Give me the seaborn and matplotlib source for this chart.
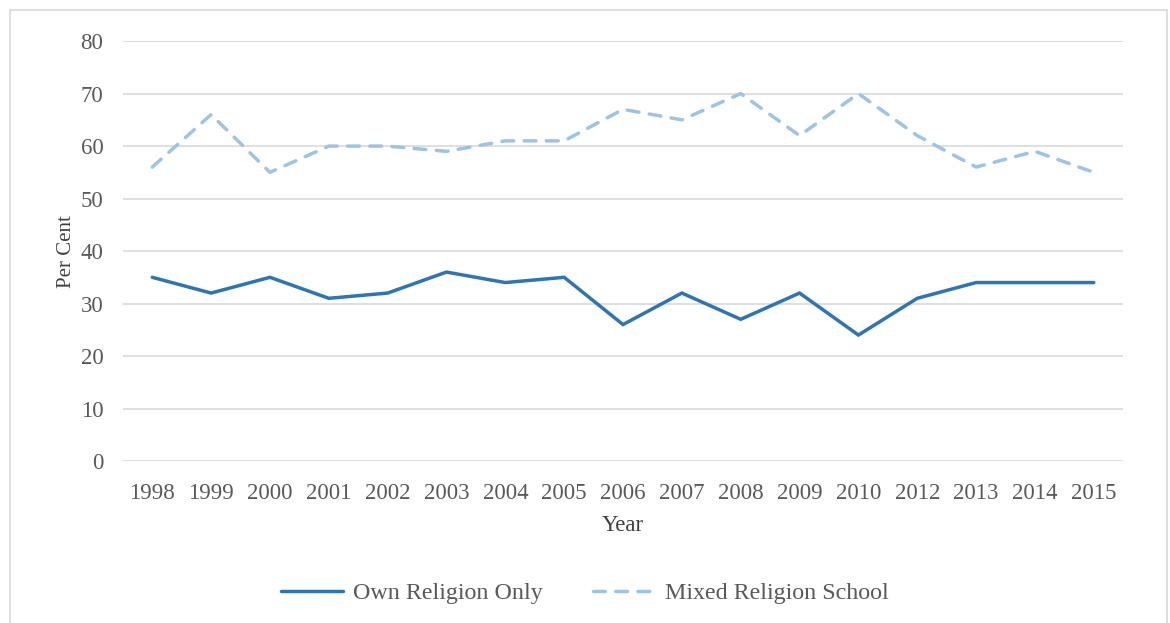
import matplotlib
matplotlib.use("Agg")
import matplotlib.pyplot as plt
import seaborn as sns
import pandas as pd
from matplotlib.patches import Rectangle

years = ["1998", "1999", "2000", "2001", "2002", "2003", "2004", "2005", "2006",
         "2007", "2008", "2009", "2010", "2012", "2013", "2014", "2015"]
own_religion = [35, 32, 35, 31, 32, 36, 34, 35, 26, 32, 27, 32, 24, 31, 34, 34, 34]
mixed_religion = [56, 66, 55, 60, 60, 59, 61, 61, 67, 65, 70, 62, 70, 62, 56, 59, 55]
series_names = ["Own Religion Only", "Mixed Religion School"]
y_ticks = [0, 10, 20, 30, 40, 50, 60, 70, 80]

sns.set_theme(style="white")
plt.rcParams["font.family"] = ["Liberation Serif", "DejaVu Serif"]

df = pd.DataFrame({
    "Year": years * 2,
    "Value": own_religion + mixed_religion,
    "Series": [series_names[0]] * len(years) + [series_names[1]] * len(years),
})

fig = plt.figure(figsize=(11.7, 6.23), dpi=100)
ax = fig.add_axes([0.105, 0.26, 0.855, 0.674])

colors = {series_names[0]: "#2e75b6", series_names[1]: "#9dc3e6"}
sns.lineplot(data=df[df.Series == series_names[0]], x="Year", y="Value",
             color=colors[series_names[0]], linewidth=2.5, sort=False, ax=ax,
             label=series_names[0], solid_capstyle="round", solid_joinstyle="miter")
sns.lineplot(data=df[df.Series == series_names[1]], x="Year", y="Value",
             color=colors[series_names[1]], linewidth=2.5, sort=False, ax=ax,
             label=series_names[1], dashes=False, linestyle=(0, (3.4, 3.0)),
             dash_capstyle="round")

ax.set_ylim(0, 80)
ax.set_xlim(-0.5, len(years) - 0.5)
ax.set_yticks(y_ticks)
ax.yaxis.grid(True, color="#d9d9d9", linewidth=1.2)
ax.xaxis.grid(False)
ax.set_axisbelow(True)
for s in ax.spines.values():
    s.set_visible(False)
ax.tick_params(axis="both", length=0, labelsize=16.5, colors="#595959")
ax.tick_params(axis="x", pad=16)
ax.tick_params(axis="y", pad=14)
ax.set_xlabel("Year", fontsize=16.5, color="#404040", labelpad=8)
ax.set_ylabel("Per Cent", fontsize=15, color="#404040", labelpad=3)

ax.get_legend().remove()
handles, labels = ax.get_legend_handles_labels()
leg = fig.legend(handles, labels, loc="center", bbox_to_anchor=(0.5, 0.048), ncol=2,
                 frameon=False, fontsize=17.3, handlelength=2.6, handletextpad=0.4,
                 columnspacing=2.1, labelcolor="#595959")

fig.patches.append(Rectangle((10 / 1170, -0.05), 1157 / 1170, 1 - 10 / 623 + 0.05,
                             transform=fig.transFigure, fill=False,
                             edgecolor="#d9d9d9", linewidth=1.2))

fig.savefig("out.png", dpi=100)
